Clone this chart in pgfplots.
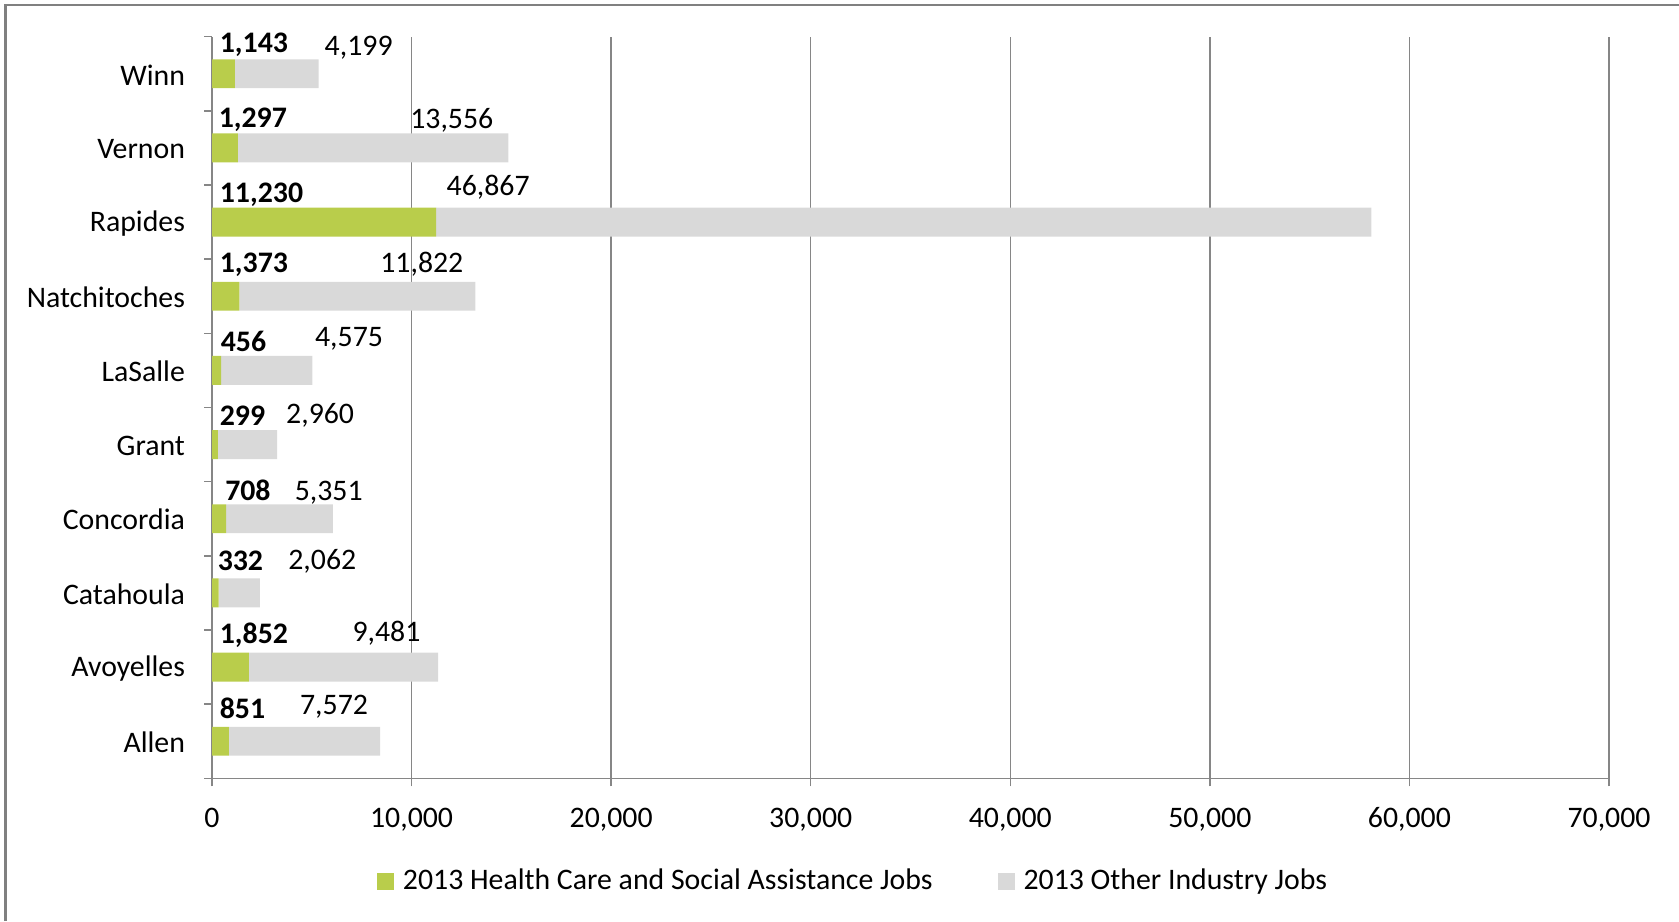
\documentclass[border=0pt]{standalone}
\usepackage{fontspec}
\setmainfont{Carlito}
\usepackage{pgfplots}
\pgfplotsset{compat=1.18}
\definecolor{hcgreen}{RGB}{185,205,75}
\definecolor{ogray}{RGB}{217,217,217}
\definecolor{gridgray}{RGB}{134,134,134}
\definecolor{framegray}{RGB}{128,128,128}
\newcommand{\chartfont}{\fontsize{14.9}{17.5}\selectfont}
\tikzset{gl/.style={anchor=west, inner sep=0pt, yshift=-1.6pt, font=\chartfont\bfseries},
         ol/.style={anchor=center, inner sep=0pt, yshift=-1.6pt}}
\begin{document}
\begin{tikzpicture}[font=\chartfont]
\path[use as bounding box] (0,0) rectangle (839.5pt,460.5pt);
\draw[framegray, line width=1.2pt] (2.7pt,0) -- (2.7pt,457.85pt) -- (839.5pt,457.85pt);
\begin{axis}[
  at={(106pt,71.35pt)}, anchor=south west, scale only axis,
  width=698.5pt, height=370.8pt,
  xbar stacked, bar width=0.39,
  xmin=0, xmax=70000, ymin=-0.5, ymax=9.5,
  xtick={0,10000,...,70000},
  scaled x ticks=false,
  xticklabel style={/pgf/number format/1000 sep={,}, yshift=-7.2pt},
  /pgf/number format/assume math mode=true,
  ytick={0,...,9},
  yticklabels={Allen,Avoyelles,Catahoula,Concordia,Grant,LaSalle,Natchitoches,Rapides,Vernon,Winn},
  minor ytick={-0.5,0.5,...,9.5},
  tick align=outside,
  major tick length=4pt, minor tick length=4pt,
  major y tick style={draw=none},
  axis x line*=bottom, axis y line*=left,
  axis line style={gridgray, line width=0.75pt},
  tick style={gridgray, line width=0.75pt},
  xmajorgrids, grid style={gridgray, line width=0.75pt},
  yticklabel style={xshift=-6pt, yshift=-0.5pt},
  clip=false,
  legend columns=2,
  legend style={at={(0.1135,-0.1385)}, anchor=west, draw=none, fill=none,
    /tikz/every even column/.append style={column sep=28pt},
    nodes={inner xsep=4.5pt}},
]
\addplot[fill=hcgreen, draw=none, legend image code/.code={\fill[hcgreen] (0pt,-4.25pt) rectangle (8.5pt,4.25pt);}]
  coordinates {(851,0) (1852,1) (332,2) (708,3) (299,4) (456,5) (1373,6) (11230,7) (1297,8) (1143,9)};
\addlegendentry{2013 Health Care and Social Assistance Jobs}
\addplot[fill=ogray, draw=none, legend image code/.code={\fill[ogray] (0pt,-4.25pt) rectangle (8.5pt,4.25pt);}]
  coordinates {(7572,0) (9481,1) (2062,2) (5351,3) (2960,4) (4575,5) (11822,6) (46867,7) (13556,8) (4199,9)};
\addlegendentry{2013 Other Industry Jobs}
\node[gl] at (axis cs:375,9.428) {1,143};
\node[gl] at (axis cs:320,8.418) {1,297};
\node[gl] at (axis cs:375,7.408) {11,230};
\node[gl] at (axis cs:375,6.470) {1,373};
\node[gl] at (axis cs:420,5.431) {456};
\node[gl] at (axis cs:375,4.435) {299};
\node[gl] at (axis cs:644,3.425) {708};
\node[gl] at (axis cs:268,2.473) {332};
\node[gl] at (axis cs:375,1.477) {1,852};
\node[gl] at (axis cs:375,0.481) {851};
\node[ol] at (axis cs:7349,9.399) {4,199};
\node[ol] at (axis cs:12015,8.418) {13,556};
\node[ol] at (axis cs:13839,7.509) {46,867};
\node[ol] at (axis cs:10513,6.470) {11,822};
\node[ol] at (axis cs:6866,5.474) {4,575};
\node[ol] at (axis cs:5418,4.435) {2,960};
\node[ol] at (axis cs:5847,3.396) {5,351};
\node[ol] at (axis cs:5525,2.473) {2,062};
\node[ol] at (axis cs:8743,1.506) {9,481};
\node[ol] at (axis cs:6115,0.510) {7,572};
\end{axis}
\end{tikzpicture}
\end{document}
